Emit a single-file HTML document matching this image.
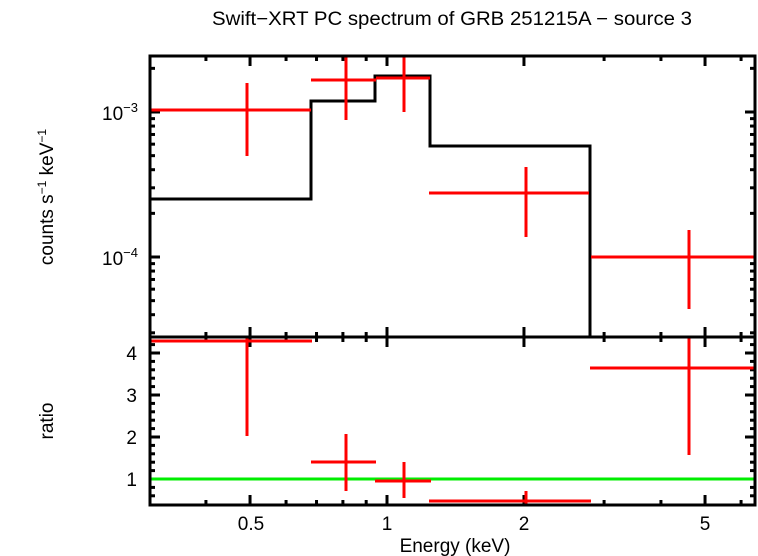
<!DOCTYPE html>
<html><head><meta charset="utf-8"><style>
html,body{margin:0;padding:0;background:#fff;}
svg{display:block;font-family:"Liberation Sans",sans-serif;}
</style></head><body>
<svg id="s" width="758" height="556" viewBox="0 0 758 556" xmlns="http://www.w3.org/2000/svg">
<text x="452" y="25" font-size="19" text-anchor="middle" textLength="480" lengthAdjust="spacingAndGlyphs">Swift−XRT PC spectrum of GRB 251215A − source 3</text>
<g id="ticks" stroke="#000" stroke-width="3"></g>
<polyline fill="none" stroke="#000" stroke-width="3" points="150,199 311,199 311,101 375,101 375,76 430,76 430,146 590,146 590,337"/>
<g stroke="#f00" stroke-width="3">
<line x1="150" y1="110" x2="311" y2="110"/><line x1="247" y1="83" x2="247" y2="156"/>
<line x1="311" y1="80" x2="376" y2="80"/><line x1="346" y1="56" x2="346" y2="120"/>
<line x1="376" y1="78" x2="430" y2="78"/><line x1="404" y1="56" x2="404" y2="112"/>
<line x1="429" y1="193" x2="589" y2="193"/><line x1="526" y1="167" x2="526" y2="237"/>
<line x1="591" y1="257" x2="755" y2="257"/><line x1="689" y1="230" x2="689" y2="309"/>
</g>
<line x1="150" y1="479" x2="755" y2="479" stroke="#0e0" stroke-width="3"/>
<g stroke="#f00" stroke-width="3">
<line x1="150" y1="341" x2="312" y2="341"/><line x1="247" y1="337" x2="247" y2="436"/>
<line x1="311" y1="462" x2="376" y2="462"/><line x1="346" y1="434" x2="346" y2="491"/>
<line x1="375" y1="481" x2="431" y2="481"/><line x1="404" y1="462" x2="404" y2="498"/>
<line x1="429" y1="501" x2="591" y2="501"/><line x1="526" y1="491" x2="526" y2="505"/>
<line x1="590" y1="368" x2="755" y2="368"/><line x1="689" y1="337" x2="689" y2="455"/>
</g>
<rect x="150" y="56" width="605" height="281" fill="none" stroke="#000" stroke-width="3"/>
<rect x="150" y="337" width="605" height="168" fill="none" stroke="#000" stroke-width="3"/>
<g font-size="19">
<text x="251" y="530" text-anchor="middle">0.5</text>
<text x="387" y="530" text-anchor="middle">1</text>
<text x="524" y="530" text-anchor="middle">2</text>
<text x="705" y="530" text-anchor="middle">5</text>
<text x="455" y="552" text-anchor="middle">Energy (keV)</text>
<text x="137" y="360" text-anchor="end">4</text>
<text x="137" y="402" text-anchor="end">3</text>
<text x="137" y="444" text-anchor="end">2</text>
<text x="137" y="486" text-anchor="end">1</text>
<text x="138" y="120" text-anchor="end">10<tspan font-size="13" dy="-8">−3</tspan></text>
<text x="138" y="265" text-anchor="end">10<tspan font-size="13" dy="-8">−4</tspan></text>
<text transform="translate(53,197) rotate(-90)" text-anchor="middle">counts s<tspan font-size="12" dy="-7">−1</tspan><tspan dy="7"> keV</tspan><tspan font-size="12" dy="-7">−1</tspan></text>
<text transform="translate(53,421) rotate(-90)" text-anchor="middle">ratio</text>
</g>
<script>
(function(){
var g=document.getElementById('ticks'),ns='http://www.w3.org/2000/svg';
function L(a,b,c,d){var l=document.createElementNS(ns,'line');l.setAttribute('x1',a);l.setAttribute('y1',b);l.setAttribute('x2',c);l.setAttribute('y2',d);g.appendChild(l);}
function X(e){return 387+455*Math.log10(e);}
var xs=[0.4,0.5,0.6,0.7,0.8,0.9,1,2,3,4,5,6];
xs.forEach(function(e){var x=X(e),m=(e==0.5||e==1||e==2||e==5)?10:5;
L(x,56,x,56+m);L(x,337,x,337-m);L(x,337,x,337+m);L(x,505,x,505-m);});
function Y(v){return 112-145*(Math.log10(v)+3);}
for(var d=-5;d<=-3;d++){for(var k=1;k<10;k++){var v=k*Math.pow(10,d),y=Y(v);if(y<57||y>336)continue;var m=k==1?10:5;L(150,y,150+m,y);L(755,y,755-m,y);}}
for(var r=0.4;r<4.4;r+=0.2){var y=479-42*(r-1);var rr=Math.round(r*10)/10;var m=(rr%1==0)?10:5;if(y<338||y>504)continue;L(150,y,150+m,y);L(755,y,755-m,y);}
})();
</script>
</svg>
</body></html>
